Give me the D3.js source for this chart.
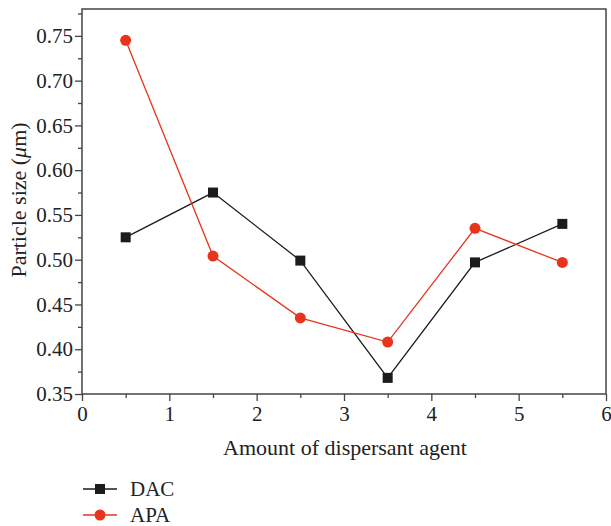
<!DOCTYPE html>
<html>
<head>
<meta charset="utf-8">
<script src="https://cdn.jsdelivr.net/npm/d3@7"></script>
<style>
  body { margin: 0; background: #fff; }
  text { font-family: "Liberation Serif", "DejaVu Serif", serif; fill: #222; }
</style>
</head>
<body>
<svg id="canvas" width="611" height="526"></svg>
<script>
let xValues = [0.5, 1.5, 2.5, 3.5, 4.5, 5.5]
let dacValues = [0.525, 0.575, 0.499, 0.368, 0.497, 0.540]
let apaValues = [0.745, 0.504, 0.435, 0.408, 0.535, 0.497]
let xTicks = [0, 1, 2, 3, 4, 5, 6]
let yTicks = [0.35, 0.40, 0.45, 0.50, 0.55, 0.60, 0.65, 0.70, 0.75]

let canvas = d3.select('#canvas')

let plotLeft = 82, plotRight = 606, plotTop = 9, plotBottom = 394

let x = d3.scaleLinear().domain([0, 6]).range([plotLeft, plotRight])
let y = d3.scaleLinear().domain([0.35, 0.78]).range([plotBottom, plotTop])

let axisColor = '#444'

// minor ticks
canvas.append('g')
  .attr('transform', 'translate(0,' + plotBottom + ')')
  .call(d3.axisBottom(x).tickValues(d3.range(0.5, 6, 1)).tickSize(4).tickFormat(''))
canvas.append('g')
  .attr('transform', 'translate(' + plotLeft + ',0)')
  .call(d3.axisLeft(y).tickValues(d3.range(0.375, 0.78, 0.05)).tickSize(4).tickFormat(''))

// major ticks
let xAxis = canvas.append('g')
  .attr('transform', 'translate(0,' + plotBottom + ')')
  .call(d3.axisBottom(x).tickValues(xTicks).tickSize(7).tickPadding(5).tickFormat(d3.format('d')))
let yAxis = canvas.append('g')
  .attr('transform', 'translate(' + plotLeft + ',0)')
  .call(d3.axisLeft(y).tickValues(yTicks).tickSize(7).tickPadding(2).tickFormat(d3.format('.2f')))

xAxis.attr('font-family', 'Liberation Serif').attr('font-size', 21)
yAxis.attr('font-family', 'Liberation Serif').attr('font-size', 21)

canvas.selectAll('.domain').remove()
canvas.selectAll('.tick line').attr('stroke', axisColor).attr('stroke-width', 1.3)
canvas.selectAll('.tick text').attr('fill', '#222')

// frame
canvas.append('rect')
  .attr('x', plotLeft).attr('y', plotTop)
  .attr('width', plotRight - plotLeft).attr('height', plotBottom - plotTop)
  .attr('fill', 'none').attr('stroke', axisColor).attr('stroke-width', 1.5)

let series = [
  {name: 'DAC', values: dacValues, color: '#1c1c1c', shape: 'square'},
  {name: 'APA', values: apaValues, color: '#e8341c', shape: 'circle'}
]

let line = d3.line()
  .x((d, i) => x(xValues[i]))
  .y(d => y(d))

series.forEach(s => {
  canvas.append('path')
    .datum(s.values)
    .attr('d', line)
    .attr('fill', 'none')
    .attr('stroke', s.color)
    .attr('stroke-width', 1.3)
  let g = canvas.append('g')
  if (s.shape == 'square') {
    g.selectAll('rect').data(s.values).enter().append('rect')
      .attr('x', (d, i) => x(xValues[i]) - 5)
      .attr('y', d => y(d) - 5)
      .attr('width', 10).attr('height', 10)
      .attr('fill', s.color)
  } else {
    g.selectAll('circle').data(s.values).enter().append('circle')
      .attr('cx', (d, i) => x(xValues[i]))
      .attr('cy', d => y(d))
      .attr('r', 5.5)
      .attr('fill', s.color)
  }
})

// axis titles
canvas.append('text')
  .attr('x', 345).attr('y', 455)
  .attr('text-anchor', 'middle')
  .style('font-size', '22px')
  .text('Amount of dispersant agent')

canvas.append('text')
  .attr('transform', 'translate(26,200) rotate(-90)')
  .attr('text-anchor', 'middle')
  .style('font-size', '22px')
  .html('Particle size (<tspan font-style="italic">μ</tspan>m)')

// legend
series.forEach((s, i) => {
  let ly = 489 + i * 26
  let lg = canvas.append('g')
  lg.append('line')
    .attr('x1', 83).attr('x2', 117).attr('y1', ly).attr('y2', ly)
    .attr('stroke', s.color).attr('stroke-width', 1.3)
  if (s.shape == 'square') {
    lg.append('rect').attr('x', 95).attr('y', ly - 5).attr('width', 10).attr('height', 10).attr('fill', s.color)
  } else {
    lg.append('circle').attr('cx', 100).attr('cy', ly).attr('r', 5.5).attr('fill', s.color)
  }
  lg.append('text')
    .attr('x', 130).attr('y', ly + 7)
    .style('font-size', '21px')
    .text(s.name)
})
</script>
</body>
</html>
